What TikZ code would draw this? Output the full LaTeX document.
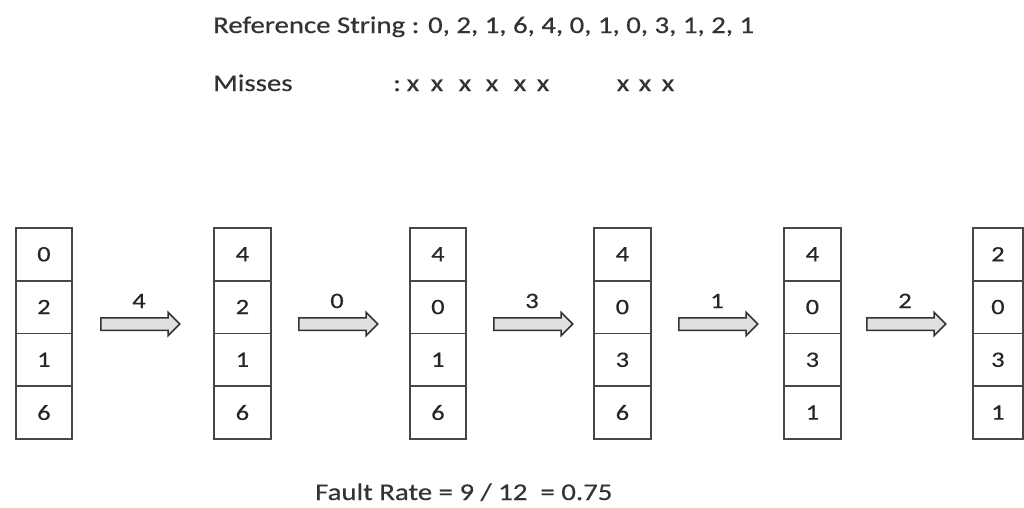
\documentclass[tikz,border=0pt]{standalone}
\usepackage{fontspec}
\setmainfont{Carlito}[FakeStretch=1.2, FakeBold=0.5]
\usetikzlibrary{shapes.arrows}
\begin{document}
\begin{tikzpicture}[x=1pt,y=-1pt,
  cell/.style={draw=black!72, line width=1.8pt, minimum height=52.75pt, inner sep=0pt, anchor=north west, font=\fontsize{22}{24}\selectfont, text=black!85},
  blk/.style={single arrow, draw=black!80, fill=black!12, line width=1.5pt, minimum height=79pt, single arrow head extend=5.5pt, inner sep=5.5pt, anchor=west},
  lbl/.style={font=\fontsize{22}{24}\selectfont, text=black!85, anchor=base, inner sep=0pt},
  txt/.style={font=\fontsize{24}{26}\selectfont, text=black!80, anchor=base west, inner sep=0pt}]
\useasboundingbox (0,0) rectangle (1024,507);
% header texts
\node[txt] (ref) at (213,33) {Reference String : 0, 2, 1, 6, 4, 0, 1, 0, 3, 1, 2, 1};
\node[txt] (mis) at (213,91) {Misses};
\node[txt] (colon) at (393,91) {:};
\foreach \i/\x in {1/413,2/437,3/465,4/492,5/520,6/543,7/623,8/645,9/668}
  \node[txt, anchor=base] (x\i) at (\x,91) {x};
% frame columns
\foreach \c/\x/\w/\vals in {1/15/56/{0,2,1,6}, 2/213/57/{4,2,1,6}, 3/409/56/{4,0,1,6}, 4/593/57/{4,0,3,6}, 5/783/57/{4,0,3,1}, 6/972/50/{2,0,3,1}}{
  \foreach \v [count=\r] in \vals
    \node[cell, minimum width=\w pt] (c\c r\r) at (\x, {227+(\r-1)*52.75}) {\v};
}
% block arrows with labels
\foreach \i/\x/\m/\t in {1/100/139/4, 2/298/337/0, 3/493/532/3, 4/678/717/1, 5/866/905/2}{
  \node[blk] (a\i) at (\x,324) {};
  \node[lbl] (l\i) at (\m,308) {\t};
}
% fault rate
\node[txt] (fault) at (315,500) {Fault Rate = 9 / 12 \ = 0.75};
\end{tikzpicture}
\end{document}
